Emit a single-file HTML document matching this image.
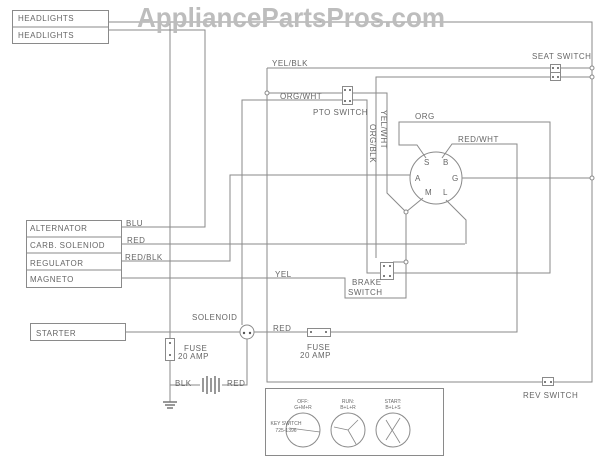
<!DOCTYPE html>
<html><head><style>
html,body{margin:0;padding:0;background:#fff;}
svg{display:block;}
text{font-family:"Liberation Sans",sans-serif;fill:#666;}
</style></head><body>
<svg width="600" height="462" viewBox="0 0 600 462" xmlns="http://www.w3.org/2000/svg">
<g fill="none" stroke="#8a8a8a" stroke-width="1">
<rect x="12.5" y="10.5" width="96" height="33"/>
<line x1="12" y1="27" x2="108" y2="27"/>
<polyline points="108,22 592,22 592,382 553,382"/>
<polyline points="108,30 205,30 205,227 121,227"/>
<line x1="170" y1="22" x2="170" y2="338"/>
<line x1="170" y1="360" x2="170" y2="402"/>
<rect x="26.5" y="220.5" width="95" height="67"/>
<line x1="26" y1="237" x2="121" y2="237"/>
<line x1="26" y1="253" x2="121" y2="253"/>
<line x1="26" y1="270" x2="121" y2="270"/>
<line x1="121" y1="244" x2="465" y2="244"/>
<polyline points="121,261 230,261 230,175 410,175"/>
<polyline points="121,278 345,278 345,298 406,298 406,280"/>
<rect x="30.5" y="323.5" width="95" height="17"/>
<line x1="125" y1="332" x2="241" y2="332"/>
<polyline points="253,332 307,332"/>
<polyline points="330,332 517,332 517,144 452,144 442,158"/>
<polyline points="267,68 550,68"/><line x1="560" y1="68" x2="592" y2="68"/>
<polyline points="376,258 376,77 550,77"/><line x1="560" y1="77" x2="592" y2="77"/>
<polyline points="267,68 267,382 542,382"/>
<polyline points="267,93 342,93"/><polyline points="352,93 387,93 387,193 406,212"/>
<polyline points="242,325 242,100 342,100"/><polyline points="352,100 367,100 367,273 380,273"/>
<polyline points="426,158 417,145 399,145 399,122 550,122 550,273 393,273"/>
<circle cx="436" cy="178" r="26"/>
<line x1="462" y1="178" x2="592" y2="178"/>
<polyline points="406,212 423,198"/>
<polyline points="406,212 406,280 406,262 393,262"/>
<polyline points="446,200 466,220 466,244"/>
<polyline points="170,385 200,385"/>
<polyline points="222,385 247,385 247,339"/>
</g>
<g fill="#fff" stroke="#8a8a8a">
<rect x="342.5" y="86.5" width="10" height="18"/>
<rect x="550.5" y="64.5" width="10" height="16"/>
<line x1="550" y1="72.5" x2="560" y2="72.5"/>
<rect x="380.5" y="262.5" width="13" height="17"/>
<rect x="307.5" y="328.5" width="23" height="8"/>
<rect x="542.5" y="377.5" width="11" height="8"/>
<rect x="165.5" y="338.5" width="9" height="22"/>
<circle cx="247" cy="332" r="7"/>
<circle cx="267" cy="93" r="2"/><circle cx="592" cy="68" r="2"/><circle cx="592" cy="77" r="2"/><circle cx="592" cy="178" r="2"/>
<circle cx="406" cy="212" r="2"/><circle cx="406" cy="262" r="2"/>
<rect x="265.5" y="388.5" width="178" height="67"/>
<circle cx="303" cy="430" r="17"/><circle cx="348" cy="430" r="17"/><circle cx="393" cy="430" r="17"/>
</g>
<g fill="#555">
<circle cx="244" cy="333" r="1.2"/><circle cx="250" cy="333" r="1.2"/>
<circle cx="345" cy="90" r="1"/><circle cx="350" cy="90" r="1"/><circle cx="345" cy="101" r="1"/><circle cx="350" cy="101" r="1"/>
<circle cx="553" cy="68" r="1"/><circle cx="558" cy="68" r="1"/><circle cx="553" cy="77" r="1"/><circle cx="558" cy="77" r="1"/>
<circle cx="384" cy="266" r="1"/><circle cx="390" cy="266" r="1"/><circle cx="384" cy="276" r="1"/><circle cx="390" cy="276" r="1"/>
<circle cx="311" cy="332" r="1"/><circle cx="326" cy="332" r="1"/>
<circle cx="545" cy="382" r="1"/><circle cx="551" cy="382" r="1"/>
<circle cx="170" cy="343" r="1"/><circle cx="170" cy="355" r="1"/>
</g>
<g stroke="#777" stroke-width="1.5">
<line x1="203" y1="378" x2="203" y2="392"/><line x1="207" y1="376" x2="207" y2="394"/>
<line x1="211" y1="378" x2="211" y2="392"/><line x1="215" y1="376" x2="215" y2="394"/>
<line x1="219" y1="378" x2="219" y2="392"/>
<line x1="163" y1="402" x2="177" y2="402"/><line x1="165" y1="405" x2="175" y2="405"/><line x1="167" y1="408" x2="173" y2="408"/>
</g>
<text x="137" y="27" font-size="28" font-weight="bold" style="fill:#bdbdbd" textLength="308" lengthAdjust="spacingAndGlyphs">AppliancePartsPros.com</text>
<g font-size="8" letter-spacing="0.5">
<text x="18" y="21">HEADLIGHTS</text>
<text x="18" y="38">HEADLIGHTS</text>
<text x="30" y="231">ALTERNATOR</text>
<text x="30" y="248">CARB. SOLENIOD</text>
<text x="30" y="266">REGULATOR</text>
<text x="30" y="282">MAGNETO</text>
<text x="36" y="336">STARTER</text>
<text x="126" y="226">BLU</text>
<text x="127" y="243">RED</text>
<text x="125" y="260">RED/BLK</text>
<text x="275" y="277">YEL</text>
<text x="272" y="66">YEL/BLK</text>
<text x="280" y="99">ORG/WHT</text>
<text x="313" y="115">PTO SWITCH</text>
<text x="532" y="59">SEAT SWITCH</text>
<text x="415" y="119">ORG</text>
<text x="458" y="142">RED/WHT</text>
<text x="192" y="320">SOLENOID</text>
<text x="184" y="351">FUSE</text><text x="178" y="359">20 AMP</text>
<text x="175" y="386">BLK</text><text x="227" y="386">RED</text>
<text x="273" y="331">RED</text>
<text x="307" y="350">FUSE</text><text x="300" y="358">20 AMP</text>
<text x="352" y="285">BRAKE</text><text x="348" y="295">SWITCH</text>
<text x="523" y="398">REV SWITCH</text>
<text x="424" y="165">S</text><text x="443" y="165">B</text><text x="415" y="181">A</text><text x="452" y="181">G</text><text x="425" y="195">M</text><text x="443" y="195">L</text>
<text transform="translate(370,124) rotate(90)">ORG/BLK</text>
<text transform="translate(381,110) rotate(90)">YEL/WHT</text>
</g>
<g font-size="5" text-anchor="middle">
<text x="286" y="425">KEY SWITCH</text><text x="286" y="432">725-1396</text>
<text x="303" y="403">OFF:</text><text x="303" y="409">G+M+R</text>
<text x="348" y="403">RUN:</text><text x="348" y="409">B+L+R</text>
<text x="393" y="403">START:</text><text x="393" y="409">B+L+S</text>
</g>
<g stroke="#888" stroke-width="0.8">
<line x1="289" y1="428" x2="320" y2="432"/><line x1="348" y1="430" x2="334" y2="427"/><line x1="348" y1="430" x2="358" y2="420"/><line x1="348" y1="430" x2="356" y2="444"/>
<line x1="386" y1="420" x2="400" y2="443"/><line x1="400" y1="418" x2="386" y2="440"/>
</g>
</svg>
</body></html>
